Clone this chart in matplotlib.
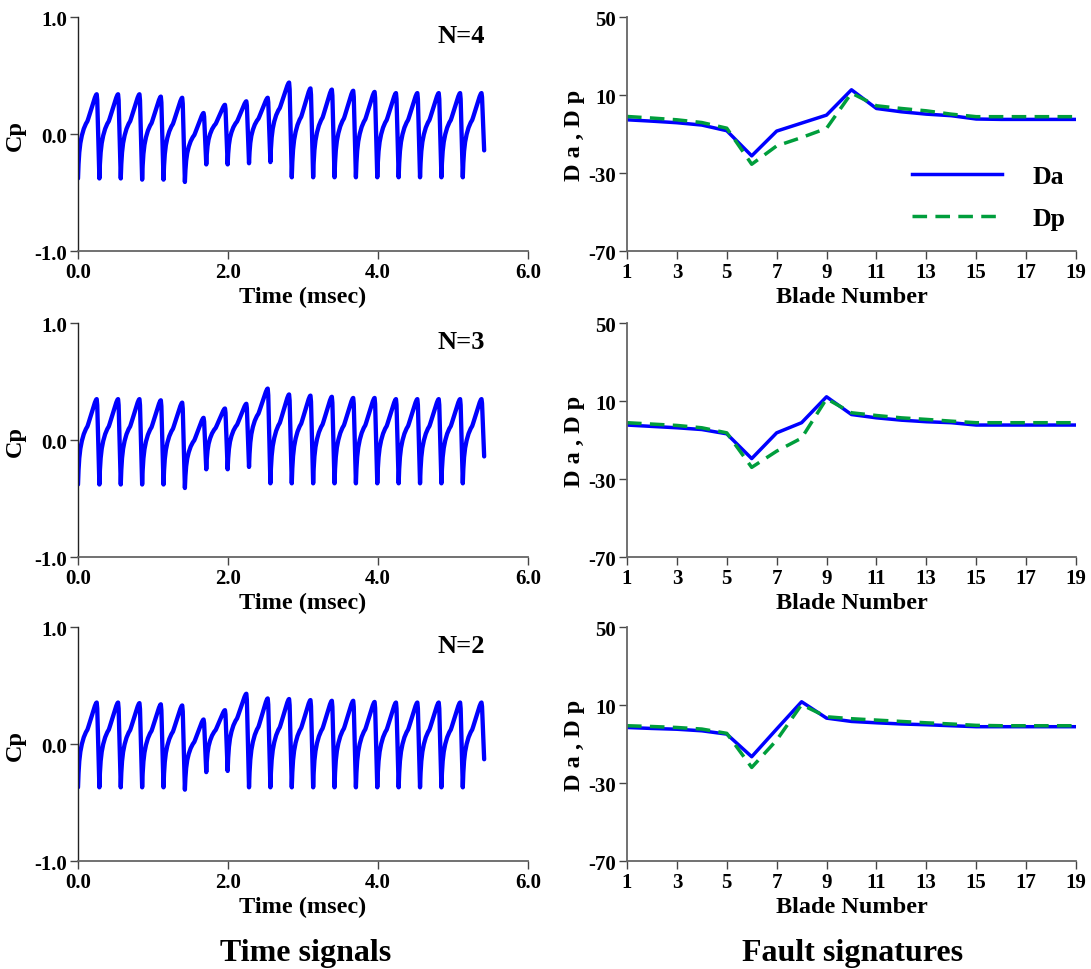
import matplotlib
matplotlib.use("Agg")
import matplotlib.pyplot as plt
import numpy as np

plt.rcParams['font.family'] = ['Liberation Serif', 'DejaVu Serif']
plt.rcParams['font.weight'] = 'bold'
plt.rcParams['axes.unicode_minus'] = False

# ===== Time signals (Cp) =====
period = 0.285          # blade passing period, msec
n_blades = 19

# one blade passage, phase 0..1 -> fraction of the trough-to-peak rise
shape_phase = [0.0, 0.025, 0.06, 0.11, 0.18, 0.27, 0.37, 0.44, 0.48, 0.58, 0.69, 0.79, 0.85, 0.875, 0.90]
shape_frac = [0.0, 0.17, 0.31, 0.42, 0.51, 0.59, 0.65, 0.68, 0.71, 0.79, 0.88, 0.96, 0.995, 1.0, 0.93]
peak_phase = 0.875

peaks_n4 = [0.34, 0.34, 0.34, 0.32, 0.31, 0.18, 0.25, 0.28, 0.31, 0.44,
            0.39, 0.38, 0.37, 0.36, 0.35, 0.35, 0.35, 0.35, 0.35]
troughs_n4 = [-0.38, -0.38, -0.38, -0.39, -0.39, -0.41, -0.26, -0.26, -0.25, -0.24,
              -0.37, -0.37, -0.37, -0.37, -0.37, -0.37, -0.37, -0.37, -0.37, -0.14]

peaks_n3 = [0.35, 0.35, 0.35, 0.34, 0.32, 0.19, 0.27, 0.31, 0.44, 0.39,
            0.38, 0.37, 0.36, 0.36, 0.35, 0.35, 0.35, 0.35, 0.35]
troughs_n3 = [-0.38, -0.38, -0.38, -0.38, -0.38, -0.41, -0.25, -0.25, -0.23, -0.37,
              -0.37, -0.37, -0.37, -0.37, -0.37, -0.37, -0.37, -0.37, -0.37, -0.14]

peaks_n2 = [0.355, 0.355, 0.35, 0.34, 0.33, 0.21, 0.29, 0.43, 0.39, 0.385,
            0.376, 0.37, 0.37, 0.36, 0.355, 0.355, 0.355, 0.355, 0.355]
troughs_n2 = [-0.37, -0.37, -0.37, -0.37, -0.37, -0.39, -0.24, -0.23, -0.37, -0.37,
              -0.37, -0.37, -0.37, -0.37, -0.37, -0.37, -0.37, -0.37, -0.37, -0.13]

# ===== Fault signatures =====
blades = np.arange(1, 20)
da_n4 = [-2.7, -3.4, -4.2, -5.4, -8.3, -21.2, -8.5, -4.4, -0.3, 12.7,
         3.1, 1.4, 0.2, -0.6, -2.3, -2.5, -2.5, -2.5, -2.5]
dp_n4 = [-1.0, -1.8, -2.7, -4.1, -7.0, -25.5, -16.1, -11.8, -7.1, 11.0,
         4.5, 3.1, 1.9, 0.2, -1.1, -1.1, -1.1, -1.1, -1.1]
da_n3 = [-2.3, -3.0, -3.7, -4.6, -6.8, -19.5, -6.3, -1.1, 12.2, 3.1,
         1.4, 0.2, -0.6, -1.1, -2.3, -2.3, -2.3, -2.3, -2.3]
dp_n3 = [-1.1, -1.8, -2.5, -3.7, -6.3, -24.0, -15.7, -9.0, 11.2, 4.0,
         2.6, 1.4, 0.6, -0.3, -1.1, -1.1, -1.1, -1.1, -1.1]
da_n2 = [-1.5, -2.0, -2.4, -3.2, -4.9, -16.5, -2.3, 11.7, 3.3, 1.6,
         0.9, 0.3, -0.1, -0.6, -1.1, -1.1, -1.1, -1.1, -1.1]
dp_n2 = [-0.6, -1.0, -1.5, -2.3, -4.5, -22.0, -8.0, 10.2, 4.0, 3.0,
         2.3, 1.6, 0.9, 0.3, -0.4, -0.6, -0.6, -0.6, -0.6]

rows = [
    ("N=4", peaks_n4, troughs_n4, da_n4, dp_n4),
    ("N=3", peaks_n3, troughs_n3, da_n3, dp_n3),
    ("N=2", peaks_n2, troughs_n2, da_n2, dp_n2),
]


def build_signal(peaks, troughs):
    t, cp = [], []
    for k in range(n_blades):
        for ph, fr in zip(shape_phase, shape_frac):
            base = troughs[k] if ph <= peak_phase else troughs[k + 1]
            t.append((k + ph) * period)
            cp.append(base + fr * (peaks[k] - base))
    t.append(n_blades * period)
    cp.append(troughs[n_blades])
    return np.array(t), np.array(cp)


def style_axes(ax, left_col):
    ax.spines['top'].set_visible(False)
    ax.spines['right'].set_visible(False)
    ax.spines['left'].set_color('#222222' if left_col else '#666666')
    ax.spines['bottom'].set_color('#666666')
    ax.spines['left'].set_linewidth(1.0 if left_col else 1.3)
    ax.spines['bottom'].set_linewidth(1.3)
    ax.tick_params(direction='out', length=6, width=1.0, colors='#444444',
                   labelcolor='black', labelsize=15, pad=2)
    for lab in ax.get_xticklabels() + ax.get_yticklabels():
        lab.set_fontweight('bold')


fig = plt.figure(figsize=(10.91, 9.70), dpi=100)

row_bottoms = [0.7402, 0.4247, 0.1113]
ax_h = 0.2412

for i, (tag, peaks, troughs, da, dp) in enumerate(rows):
    # left: pressure signal
    ax = fig.add_axes([0.0715, row_bottoms[i], 0.4125, ax_h])
    t, cp = build_signal(peaks, troughs)
    ax.plot(t, cp, color='#0000FF', lw=3.1, solid_joinstyle='round', solid_capstyle='round')
    ax.set_xlim(0, 6)
    ax.set_ylim(-1, 1)
    ax.set_xticks([0, 2, 4, 6])
    ax.set_xticklabels(['0.0', '2.0', '4.0', '6.0'])
    ax.set_yticks([-1, 0, 1])
    ax.set_yticklabels(['-1.0', '0.0', '1.0'])
    ax.set_xlabel('Time (msec)', fontsize=17.5, fontweight='bold', labelpad=3)
    ax.set_ylabel('Cp', fontsize=17.5, fontweight='bold', labelpad=6)
    ax.text(0.905, 0.92, tag, transform=ax.transAxes, ha='right', va='center',
            fontsize=19, fontweight='bold')
    style_axes(ax, True)

    # right: fault signatures
    ax2 = fig.add_axes([0.5747, row_bottoms[i], 0.4115, ax_h])
    ax2.plot(blades, da, color='#0000FF', lw=2.5, label='Da')
    ax2.plot(blades, dp, color='#009E3C', lw=2.5, dashes=(4.2, 2.4), label='Dp')
    ax2.set_xlim(1, 19)
    ax2.set_ylim(-70, 50)
    ax2.set_xticks(np.arange(1, 20, 2))
    ax2.set_yticks([-70, -30, 10, 50])
    ax2.set_xlabel('Blade Number', fontsize=17.5, fontweight='bold', labelpad=3)
    ax2.set_ylabel('D a , D p', fontsize=17.5, fontweight='bold', labelpad=2)
    style_axes(ax2, False)
    if i == 0:
        ax2.legend(loc='upper left', bbox_to_anchor=(0.635, 0.366), frameon=False,
                   borderpad=0, borderaxespad=0, handlelength=3.5, handletextpad=1.2,
                   labelspacing=0.73, prop={'size': 18.5, 'weight': 'bold'})

fig.text(0.28, 0.0175, 'Time signals', ha='center', va='center', fontsize=23, fontweight='bold')
fig.text(0.781, 0.0175, 'Fault signatures', ha='center', va='center', fontsize=23, fontweight='bold')

fig.savefig('out.png', dpi=100)
